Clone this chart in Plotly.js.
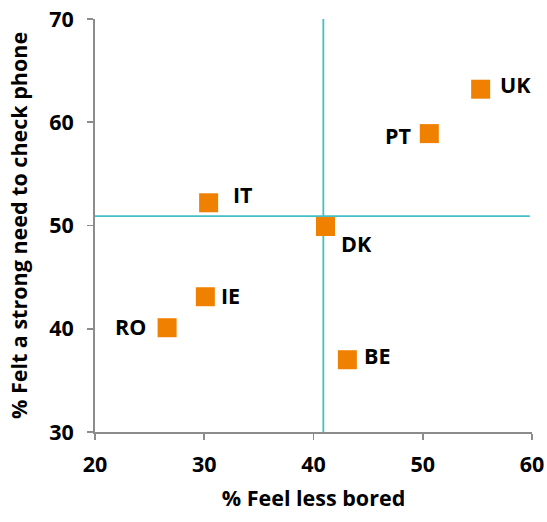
<!DOCTYPE html>
<html><head><meta charset="utf-8">
<script src="https://cdn.plot.ly/plotly-3.0.1.min.js"></script>
<style>html,body{margin:0;padding:0;background:#fff}#chart{width:547px;height:522px}</style>
</head><body><div id="chart"></div>
<script>
const countries = ["UK","PT","IT","DK","IE","RO","BE"];
const lessBored = [55.3, 50.6, 30.4, 41.1, 30.1, 26.6, 43.1];
const needCheck = [63.2, 58.9, 52.2, 49.9, 43.1, 40.1, 37.0];
const avgX = 40.9;
const avgY = 50.9;
const xTicks = [20,30,40,50,60];
const yTicks = [30,40,50,60,70];

const labelPos = {
  UK:{anchor:"left", dx:17, dy:5},
  PT:{anchor:"right", dx:-15, dy:-2},
  IT:{anchor:"left", dx:22, dy:8},
  DK:{anchor:"left", dx:13, dy:-17},
  IE:{anchor:"left", dx:14, dy:1},
  RO:{anchor:"right", dx:-19, dy:1},
  BE:{anchor:"left", dx:15, dy:4}
};
const font = {family:"Open Sans, Liberation Sans, sans-serif", size:21.5, color:"#000", weight:"bold"};
const teal = "#45BEC5";
const axisGray = "#8C8C8C";

const trace = {
  x: lessBored, y: needCheck, mode: "markers", type: "scatter",
  marker: {symbol:"square", size:19, color:"#F08000"},
  hoverinfo: "skip"
};
const annotations = countries.map((c,i)=>({
  x: lessBored[i], y: needCheck[i], xref:"x", yref:"y", text: c, showarrow:false,
  xanchor: labelPos[c].anchor, yanchor:"middle",
  xshift: labelPos[c].dx, yshift: labelPos[c].dy, font: font
}));
const shapes = [
  {type:"line", xref:"x", yref:"y", x0:avgX, x1:avgX, y0:yTicks[0], y1:yTicks[yTicks.length-1], line:{color:teal, width:1.8}, layer:"below"},
  {type:"line", xref:"x", yref:"y", x0:xTicks[0], x1:59.8, y0:avgY, y1:avgY, line:{color:teal, width:1.8}, layer:"below"}
];
const layout = {
  width:547, height:522,
  margin:{l:95, r:15, t:19, b:90},
  paper_bgcolor:"#fff", plot_bgcolor:"#fff",
  showlegend:false,
  xaxis:{range:[20,60], tickvals:xTicks, showgrid:false, zeroline:false,
    showline:true, linecolor:axisGray, linewidth:1.8, ticks:"outside", ticklen:6, tickcolor:axisGray, tickwidth:1.8,
    ticklabelstandoff:6,
    tickfont:font, title:{text:"% Feel less bored", font:font, standoff:14}},
  yaxis:{range:[30,70], tickvals:yTicks, showgrid:false, zeroline:false,
    showline:true, linecolor:axisGray, linewidth:1.8, ticks:"outside", ticklen:6, tickcolor:axisGray, tickwidth:1.8,
    ticklabelstandoff:9,
    tickfont:font, title:{text:"% Felt a strong need to check phone", font:font, standoff:16}},
  shapes: shapes, annotations: annotations
};
Plotly.newPlot("chart", [trace], layout, {displayModeBar:false, staticPlot:true});
</script></body></html>
